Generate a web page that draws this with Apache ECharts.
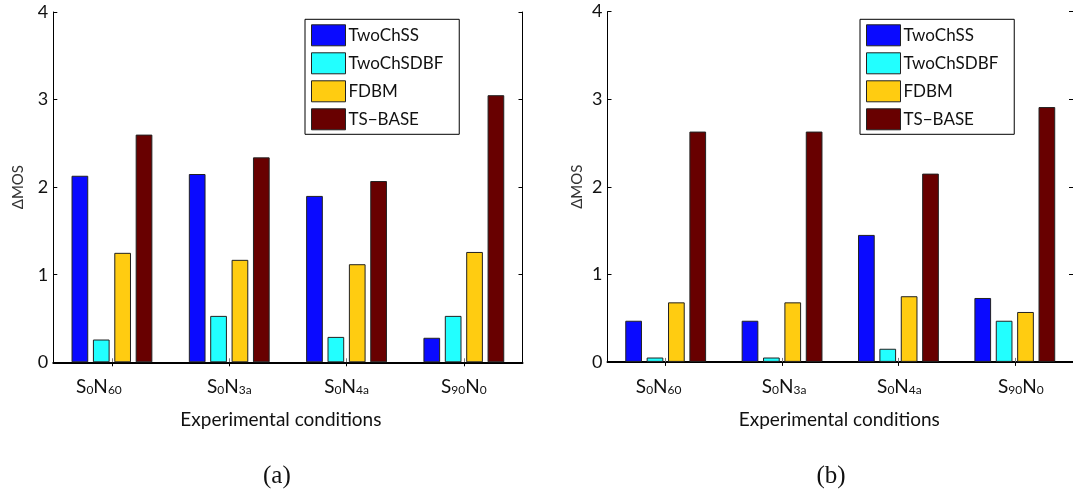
<!DOCTYPE html>
<html>
<head>
<meta charset="utf-8">
<script src="https://cdn.jsdelivr.net/npm/echarts@6/dist/echarts.min.js"></script>
<style>
html,body{margin:0;padding:0;background:#fff;}
#c{width:1073px;height:496px;}
</style>
</head>
<body>
<div id="c"></div>
<script>
// ---- data ----
const categories = ['S0N60', 'S0N3a', 'S0N4a', 'S90N0'];
const seriesNames = ['TwoChSS', 'TwoChSDBF', 'FDBM', 'TS\u2212BASE'];
const yTicks = [0, 1, 2, 3, 4];
// panel (a)
const a_TwoChSS   = [2.13, 2.15, 1.90, 0.28];
const a_TwoChSDBF = [0.26, 0.53, 0.29, 0.53];
const a_FDBM      = [1.25, 1.17, 1.12, 1.26];
const a_TSBASE    = [2.60, 2.34, 2.07, 3.05];
// panel (b)
const b_TwoChSS   = [0.47, 0.47, 1.45, 0.73];
const b_TwoChSDBF = [0.05, 0.05, 0.15, 0.47];
const b_FDBM      = [0.68, 0.68, 0.75, 0.57];
const b_TSBASE    = [2.63, 2.63, 2.15, 2.91];
const yName = '\u0394MOS';
const xName = 'Experimental conditions';
const captions = ['(a)', '(b)'];

// ---- style ----
const colors = ['#0a0aff', '#22ffff', '#ffcc11', '#680000'];
const FONT = 'Lato, "Open Sans", sans-serif';
const labelShift = [[-13, 0, 0, 0], [-7, 2, 1, 6]];

const panels = [
  {data: [a_TwoChSS, a_TwoChSDBF, a_FDBM, a_TSBASE], left: 53.3, top: 12, width: 469.2, height: 350.3, legendLeft: 305, nameGap: 28, xNameShift: -7},
  {data: [b_TwoChSS, b_TwoChSDBF, b_FDBM, b_TSBASE], left: 607.5, top: 11.6, width: 469, height: 350.3, legendLeft: 860, nameGap: 23, xNameShift: -1}
];

function catLabel(shift) {
  return function (value, idx) {
    const m = /^S(\d+)N(\w+)$/.exec(value);
    let s = m ? '{B|S}{s|' + m[1] + '}{B|N}{s|' + m[2] + '}' : value;
    const sh = shift[idx] || 0;
    if (sh < 0) s = s + '{g' + (-sh * 2) + '|}';
    if (sh > 0) s = '{g' + (sh * 2) + '|}' + s;
    return s;
  };
}
function richFor(shift) {
  const r = {
    B: {fontSize: 19, fontFamily: FONT, color: '#111', lineHeight: 21, verticalAlign: 'bottom'},
    s: {fontSize: 12, fontFamily: FONT, color: '#111', lineHeight: 15, verticalAlign: 'bottom'}
  };
  shift.forEach(v => { if (v) r['g' + Math.abs(v) * 2] = {width: Math.abs(v) * 2, height: 1}; });
  return r;
}

const grid = [], xAxis = [], yAxis = [], series = [], legend = [], graphic = [];
panels.forEach((p, pi) => {
  grid.push({left: p.left, top: p.top, width: p.width, height: p.height, containLabel: false});
  xAxis.push({
    type: 'category', gridIndex: pi, data: categories, position: 'bottom',
    axisLine: {lineStyle: {color: '#000', width: 2}},
    axisTick: {show: true, inside: true, alignWithLabel: true, length: 4, lineStyle: {color: '#777', width: 1}},
    axisLabel: {interval: 0, formatter: catLabel(labelShift[pi]), rich: richFor(labelShift[pi]), margin: 13},
    name: xName, nameLocation: 'middle', nameGap: 48,
    nameTextStyle: {fontSize: 19, fontFamily: FONT, color: '#111', padding: [0, -p.xNameShift * 2 > 0 ? -p.xNameShift * 2 : 0, 0, 0]}
  });
  xAxis.push({
    type: 'category', gridIndex: pi, data: categories, position: 'top',
    axisLine: {lineStyle: {color: '#000', width: 1}},
    axisTick: {show: true, inside: true, alignWithLabel: true, length: 4, lineStyle: {color: '#000'}},
    axisLabel: {show: false}
  });
  yAxis.push({
    type: 'value', gridIndex: pi, min: yTicks[0], max: yTicks[yTicks.length - 1], interval: 1, position: 'left',
    axisLine: {show: true, lineStyle: {color: '#000', width: 1}},
    axisTick: {show: true, inside: true, length: 4, lineStyle: {color: '#000'}},
    axisLabel: {fontSize: 18, fontFamily: FONT, color: '#111', margin: 5},
    splitLine: {show: false},
    name: yName, nameLocation: 'middle', nameRotate: 90, nameGap: p.nameGap,
    nameTextStyle: {fontSize: 15, fontFamily: FONT, color: '#333'}
  });
  yAxis.push({
    type: 'value', gridIndex: pi, min: yTicks[0], max: yTicks[yTicks.length - 1], interval: 1, position: 'right',
    axisLine: {show: true, lineStyle: {color: '#000', width: 1}},
    axisTick: {show: true, inside: true, length: 4, lineStyle: {color: '#000'}},
    axisLabel: {show: false},
    splitLine: {show: false}
  });
  seriesNames.forEach((n, si) => {
    series.push({
      type: 'bar', name: n, xAxisIndex: pi * 2, yAxisIndex: pi * 2,
      data: p.data[si], barWidth: 16.7, barGap: '28%',
      itemStyle: {color: colors[si], borderColor: '#222', borderWidth: 1},
      emphasis: {disabled: true}, animation: false
    });
  });
  legend.push({
    data: seriesNames, orient: 'vertical', left: p.legendLeft, top: 19.3,
    itemWidth: 34, itemHeight: 21, itemGap: 6, icon: 'rect',
    padding: [5, 16, 4, 6],
    backgroundColor: '#fff', borderColor: '#000', borderWidth: 1,
    itemStyle: {borderColor: '#222', borderWidth: 1},
    textStyle: {fontSize: 17, fontFamily: FONT, color: '#111', padding: [0, 0, 0, -2]},
    selectedMode: false
  });
  graphic.push({
    type: 'text', x: p.left + p.width / 2 - 11, y: 464,
    style: {text: captions[pi], textAlign: 'center', fontSize: 25, fontFamily: '"Liberation Serif", "DejaVu Serif", serif', fill: '#111'}
  });
});

const chart = echarts.init(document.getElementById('c'), null, {renderer: 'canvas'});
chart.setOption({animation: false, color: colors, grid, xAxis, yAxis, series, legend, graphic});
</script>
</body>
</html>
